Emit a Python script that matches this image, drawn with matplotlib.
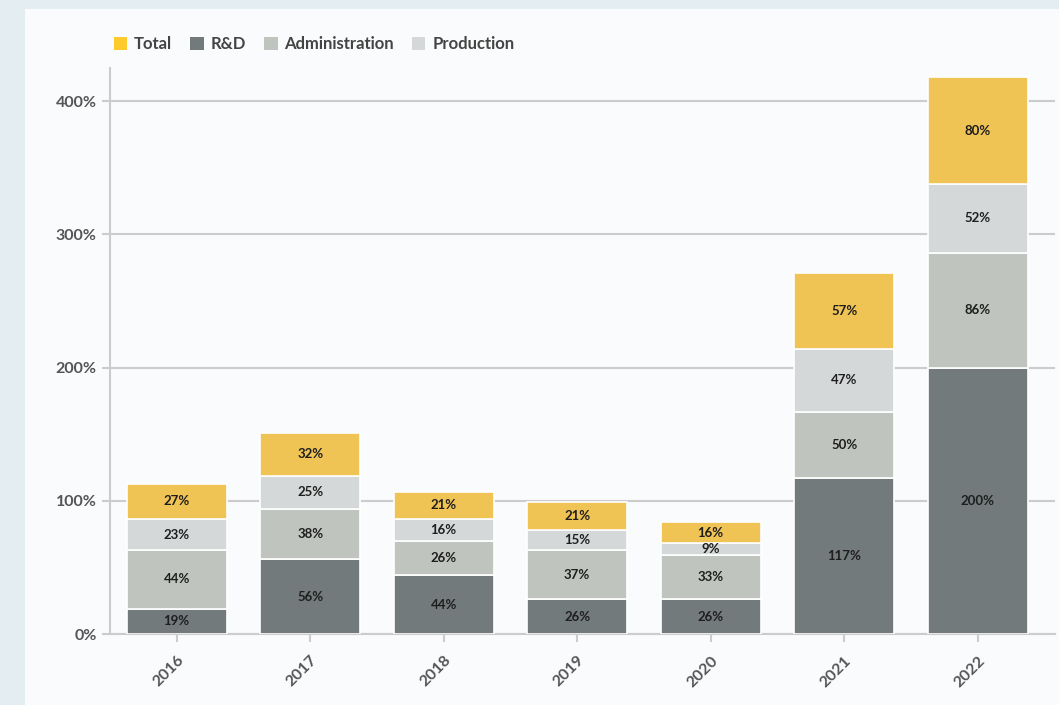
import numpy as np
import matplotlib.pyplot as plt
from matplotlib.patches import Rectangle

years = ['2016', '2017', '2018', '2019', '2020', '2021', '2022']
rnd = [19, 56, 44, 26, 26, 117, 200]
administration = [44, 38, 26, 37, 33, 50, 86]
production = [23, 25, 16, 15, 9, 47, 52]
total = [27, 32, 21, 21, 16, 57, 80]
yticks = [0, 100, 200, 300, 400]

series = [
    ('R&D', rnd, '#737a7c'),
    ('Administration', administration, '#bfc5be'),
    ('Production', production, '#d5d8d8'),
    ('Total', total, '#f0c355'),
]
legend_order = ['Total', 'R&D', 'Administration', 'Production']
legend_colors = {'Total': '#ffca2c', 'R&D': '#737a7c',
                 'Administration': '#bfc5be', 'Production': '#d5d8d8'}

plt.rcParams['font.family'] = ['Lato', 'DejaVu Sans']

fig = plt.figure(figsize=(10.59, 7.05), dpi=100)
fig.patch.set_facecolor('#e4eef2')
# белая карточка за графиком
card = Rectangle((25 / 1059, 0), 1, 1 - 9 / 705, transform=fig.transFigure,
                 facecolor='#f9fbfc', edgecolor='none', zorder=-10)
fig.patches.append(card)

ax = fig.add_axes([110 / 1059, 1 - 634 / 705, 945 / 1059, (634 - 68) / 705])
ax.set_facecolor('none')
ax.set_zorder(5)

x = np.arange(len(years))
bottom = np.zeros(len(years))
for name, vals, color in series:
    vals = np.array(vals, dtype=float)
    ax.bar(x, vals, width=0.75, bottom=bottom, color=color,
           edgecolor='white', linewidth=1.2, zorder=3)
    for xi, b, v in zip(x, bottom, vals):
        ax.text(xi, b + v / 2, '{}%'.format(int(v)), ha='center', va='center',
                fontsize=9.5, fontweight='bold', color='#1e1e1e', zorder=4)
    bottom += vals

ax.set_xlim(-0.5, 6.58)
ax.set_ylim(0, 425)
ax.set_yticks(yticks)
ax.set_yticklabels(['{}%'.format(t) for t in yticks])
ax.set_xticks(x)
ax.set_xticklabels(years, rotation=45, ha='right', rotation_mode='anchor')

ax.yaxis.grid(True, color='#cccccc', linewidth=1.5, zorder=1)
ax.set_axisbelow(True)
for s in ['top', 'right']:
    ax.spines[s].set_visible(False)
for s in ['left', 'bottom']:
    ax.spines[s].set_color('#cccccc')
    ax.spines[s].set_linewidth(1.5)
ax.tick_params(axis='both', colors='#cccccc', width=1.5, length=6,
               labelcolor='#555555', labelsize=11.5)
ax.tick_params(axis='x', pad=8)
for lbl in ax.get_xticklabels() + ax.get_yticklabels():
    lbl.set_fontweight('bold')

leg_handles = [Rectangle((0, 0), 1, 1, facecolor=legend_colors[n], edgecolor='none')
               for n in legend_order]
leg = fig.legend(leg_handles, legend_order, loc='center left',
                 bbox_to_anchor=(99 / 1059, 1 - 44 / 705), ncol=4, frameon=False,
                 handlelength=0.8, handleheight=0.8, handletextpad=0.4,
                 columnspacing=1.1, fontsize=12)
for t in leg.get_texts():
    t.set_color('#444444')
    t.set_fontweight('bold')

fig.savefig('out.png', dpi=100, facecolor=fig.get_facecolor())
